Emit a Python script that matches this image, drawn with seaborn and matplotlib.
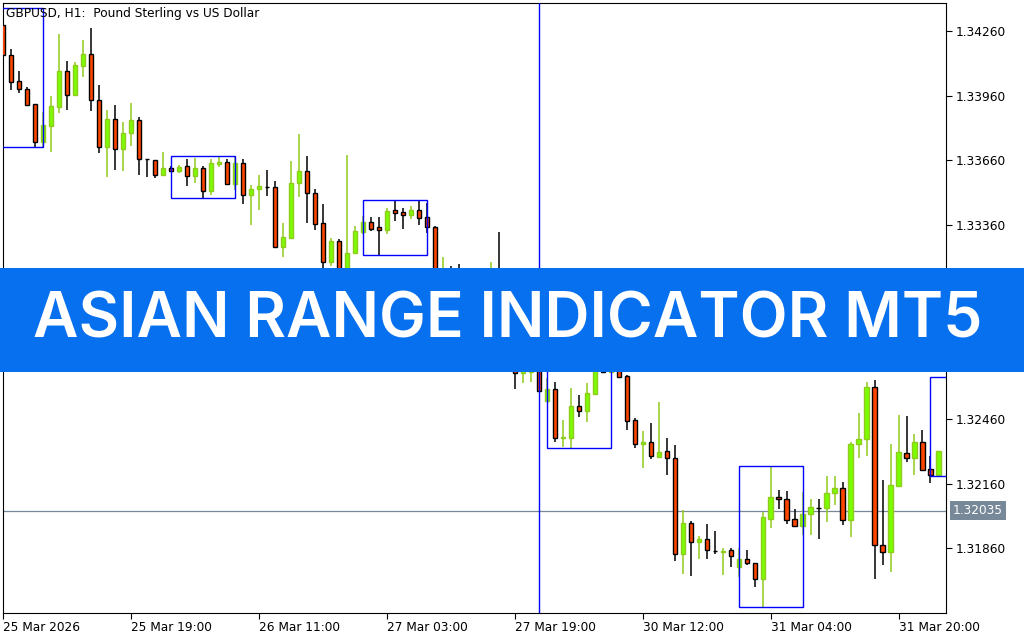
import matplotlib
matplotlib.use('Agg')
import matplotlib.pyplot as plt
import matplotlib.transforms as mtransforms
from matplotlib.patches import Rectangle
import numpy as np
import pandas as pd
import seaborn as sns

# GBPUSD H1 candles, left to right
opens = [1.34288, 1.34149, 1.34028, 1.33991, 1.33921, 1.33745, 1.33819, 1.33907, 1.34075, 1.33963,
         1.34098, 1.34153, 1.33940, 1.33722, 1.33852, 1.33713, 1.33787, 1.33847, 1.33666, 1.33662,
         1.33592, 1.33625, 1.33611, 1.33634, 1.33587, 1.33625, 1.33518, 1.33643, 1.33652, 1.33550,
         1.33648, 1.33499, 1.33527, 1.33536, 1.33536, 1.33258, 1.33300, 1.33555, 1.33611, 1.33509,
         1.33369, 1.33188, 1.33286, 1.33058, 1.33230, 1.33328, 1.33374, 1.33351, 1.33337, 1.33430,
         1.33420, 1.33406, 1.33430, 1.33397, 1.33351, 1.33012, 1.33082, 1.33012, 1.32928, 1.32989,
         1.32873, 1.32803, 1.32882, 1.32757, 1.32724, 1.32673, 1.32678, 1.32780, 1.32543, 1.32599,
         1.32372, 1.32372, 1.32520, 1.32497, 1.32576, 1.32757, 1.32678, 1.32734, 1.32659, 1.32455,
         1.32344, 1.32353, 1.32284, 1.32311, 1.32279, 1.31833, 1.31977, 1.31889, 1.31903, 1.31847,
         1.31845, 1.31852, 1.31773, 1.31810, 1.31792, 1.31717, 1.31996, 1.32098, 1.32089, 1.31996,
         1.31963, 1.32019, 1.32047, 1.32047, 1.32117, 1.32140, 1.31991, 1.32344, 1.32367, 1.32608,
         1.31875, 1.31843, 1.32149, 1.32302, 1.32279, 1.32353, 1.32228, 1.32200]
highs = [1.34311, 1.34177, 1.34075, 1.34000, 1.33921, 1.33884, 1.33959, 1.34246, 1.34121, 1.34116,
         1.34218, 1.34274, 1.34010, 1.33894, 1.33917, 1.33838, 1.33926, 1.33861, 1.33666, 1.33662,
         1.33699, 1.33634, 1.33638, 1.33666, 1.33671, 1.33634, 1.33666, 1.33680, 1.33666, 1.33676,
         1.33666, 1.33546, 1.33592, 1.33615, 1.33564, 1.33369, 1.33657, 1.33782, 1.33680, 1.33527,
         1.33457, 1.33300, 1.33295, 1.33685, 1.33355, 1.33402, 1.33397, 1.33397, 1.33439, 1.33471,
         1.33439, 1.33448, 1.33476, 1.33462, 1.33355, 1.33212, 1.33170, 1.33179, 1.33058, 1.33021,
         1.32919, 1.33188, 1.33328, 1.32826, 1.32780, 1.32734, 1.32757, 1.32826, 1.32650, 1.32632,
         1.32455, 1.32604, 1.32571, 1.32627, 1.32850, 1.32803, 1.32780, 1.32771, 1.32664, 1.32465,
         1.32404, 1.32441, 1.32539, 1.32372, 1.32339, 1.32038, 1.31987, 1.31917, 1.31973, 1.31940,
         1.31861, 1.31861, 1.31861, 1.31852, 1.31792, 1.32028, 1.32242, 1.32130, 1.32126, 1.32042,
         1.32121, 1.32089, 1.32089, 1.32195, 1.32195, 1.32168, 1.32353, 1.32488, 1.32632, 1.32641,
         1.32177, 1.32344, 1.32478, 1.32474, 1.32390, 1.32409, 1.32288, 1.32311]
lows = [1.34135, 1.33986, 1.33973, 1.33912, 1.33722, 1.33722, 1.33699, 1.33880, 1.33894, 1.33963,
        1.34047, 1.33889, 1.33694, 1.33583, 1.33615, 1.33611, 1.33727, 1.33592, 1.33583, 1.33578,
        1.33592, 1.33611, 1.33601, 1.33541, 1.33555, 1.33481, 1.33499, 1.33629, 1.33550, 1.33522,
        1.33457, 1.33360, 1.33430, 1.33495, 1.33258, 1.33212, 1.33300, 1.33490, 1.33369, 1.33337,
        1.33161, 1.33170, 1.33058, 1.33035, 1.33225, 1.33318, 1.33332, 1.33221, 1.33318, 1.33379,
        1.33341, 1.33388, 1.33360, 1.33323, 1.32989, 1.32966, 1.32984, 1.32896, 1.32873, 1.32826,
        1.32771, 1.32780, 1.32734, 1.32678, 1.32599, 1.32627, 1.32632, 1.32585, 1.32543, 1.32353,
        1.32330, 1.32325, 1.32469, 1.32446, 1.32571, 1.32673, 1.32673, 1.32650, 1.32409, 1.32325,
        1.32233, 1.32274, 1.32284, 1.32200, 1.31801, 1.31741, 1.31731, 1.31810, 1.31810, 1.31833,
        1.31736, 1.31773, 1.31727, 1.31782, 1.31680, 1.31588, 1.31954, 1.32042, 1.31973, 1.31963,
        1.31922, 1.31922, 1.31903, 1.31982, 1.32061, 1.31968, 1.31912, 1.32279, 1.32288, 1.31717,
        1.31782, 1.31750, 1.32149, 1.32260, 1.32200, 1.32223, 1.32163, 1.32200]
closes = [1.34149, 1.34024, 1.33991, 1.33917, 1.33745, 1.33824, 1.33912, 1.34075, 1.33963, 1.34102,
          1.34153, 1.33940, 1.33722, 1.33852, 1.33713, 1.33787, 1.33847, 1.33666, 1.33666, 1.33592,
          1.33625, 1.33611, 1.33629, 1.33587, 1.33625, 1.33518, 1.33648, 1.33652, 1.33550, 1.33648,
          1.33499, 1.33527, 1.33541, 1.33536, 1.33258, 1.33304, 1.33555, 1.33611, 1.33509, 1.33365,
          1.33188, 1.33286, 1.33082, 1.33230, 1.33332, 1.33374, 1.33341, 1.33337, 1.33425, 1.33416,
          1.33406, 1.33430, 1.33393, 1.33351, 1.33012, 1.33082, 1.33012, 1.32928, 1.32989, 1.32873,
          1.32803, 1.32882, 1.32757, 1.32724, 1.32673, 1.32687, 1.32697, 1.32590, 1.32599, 1.32372,
          1.32376, 1.32520, 1.32497, 1.32581, 1.32803, 1.32678, 1.32734, 1.32655, 1.32451, 1.32344,
          1.32353, 1.32288, 1.32307, 1.32279, 1.31833, 1.31977, 1.31889, 1.31903, 1.31852, 1.31847,
          1.31847, 1.31824, 1.31810, 1.31792, 1.31717, 1.32005, 1.32098, 1.32089, 1.31991, 1.31963,
          1.32019, 1.32052, 1.32047, 1.32117, 1.32140, 1.31991, 1.32344, 1.32367, 1.32608, 1.31875,
          1.31843, 1.32154, 1.32307, 1.32279, 1.32353, 1.32223, 1.32200, 1.32311]

# time axis labels (every 16 bars)
tick_bars = [0, 16, 32, 48, 64, 80, 96, 112]
tick_labels = ['25 Mar 2026', '25 Mar 19:00', '26 Mar 11:00', '27 Mar 03:00',
               '27 Mar 19:00', '30 Mar 12:00', '31 Mar 04:00', '31 Mar 20:00']
price_ticks = [1.31860, 1.32160, 1.32460, 1.32760, 1.33060, 1.33360, 1.33660, 1.33960, 1.34260]
# these two price labels sit under the banner
hidden_ticks = [1.32760, 1.33060]

# asian session range boxes (bar from / bar to, high, low)
box_start = [-3, 21, 45, 68, 92, 116]
box_end = [5, 29, 53, 76, 100, 124]
box_high = [1.34367, 1.33680, 1.33475, 1.32850, 1.32240, 1.32653]
box_low = [1.33722, 1.33484, 1.33219, 1.32324, 1.31586, 1.32194]

separator_bar = 67
last_price = 1.32035

df = pd.DataFrame({'open': opens, 'high': highs, 'low': lows, 'close': closes})
df['bar'] = np.arange(len(df))
df['bull'] = df['close'] > df['open']
df['body_low'] = df[['open', 'close']].min(axis=1)
df['body_h'] = (df['close'] - df['open']).abs()

sns.set_theme(style='white')
plt.rcParams['font.family'] = ['DejaVu Sans']

fig = plt.figure(figsize=(10.24, 6.4), dpi=100)
ax = fig.add_axes([3 / 1024, 27 / 640, 943 / 1024, 610 / 640])
ax.set_facecolor('white')

# candles
wick_col = np.where(df['bull'], '#8fcc1e', 'black')
body_fc = np.where(df['bull'], '#7cfc00', '#ff4500')
body_ec = np.where(df['bull'], '#8fcc1e', 'black')
ax.vlines(df['bar'], df['low'], df['high'], colors=wick_col, lw=1.1, zorder=2)
ax.bar(df['bar'], df['body_h'], bottom=df['body_low'], width=0.52,
       color=body_fc, edgecolor=body_ec, linewidth=1.0, zorder=3)

# asian boxes
for s, e, hi, lo in zip(box_start, box_end, box_high, box_low):
    ax.add_patch(Rectangle((s, lo), e - s, hi - lo, fill=False, ec='#0000ff', lw=1.0, zorder=4))

ax.axvline(separator_bar, color='#0000ff', lw=1.0, zorder=4)
ax.axhline(last_price, color='#778899', lw=0.9, zorder=1)

ax.set_xlim(0, 117.94)
ax.set_ylim(1.31560, 1.34390)

ax.set_xticks(tick_bars)
ax.set_xticklabels(tick_labels, ha='left')
ax.set_yticks(price_ticks)
ax.set_yticklabels(['' if p in hidden_ticks else f'{p:.5f}' for p in price_ticks])
ax.yaxis.tick_right()
ax.tick_params(axis='x', bottom=True, direction='out', length=4, width=0.8, pad=2,
               labelsize=8.7, colors='black')
ax.tick_params(axis='y', right=True, left=False, direction='out', length=4, width=0.8, pad=3,
               labelsize=8.7, colors='black')
for sp in ax.spines.values():
    sp.set_color('black')
    sp.set_linewidth(0.8)

# current price tag on the price scale
trans = mtransforms.blended_transform_factory(fig.transFigure, ax.transData)
ax.text(953 / 1024, last_price, f'{last_price:.5f}', transform=trans, color='white',
        fontsize=8.7, va='center', ha='left', zorder=6, clip_on=False,
        bbox=dict(boxstyle='square,pad=0.25', fc='#778899', ec='none'))

fig.text(6 / 1024, 1 - 13 / 640, 'GBPUSD, H1:  Pound Sterling vs US Dollar',
         fontsize=8.7, color='black', va='center', ha='left')

# title banner over the chart
fig.add_artist(Rectangle((0, 1 - 371.5 / 640), 1, 104 / 640, transform=fig.transFigure,
                         fc='#0770ee', ec='none', zorder=10))
fig.text(508 / 1024, 1 - 337.7 / 640, 'ASIAN RANGE INDICATOR MT5', color='white',
         fontsize=45, fontfamily='Inter', fontweight='semibold',
         ha='center', va='baseline', zorder=11)

fig.savefig('out.png', dpi=100)
